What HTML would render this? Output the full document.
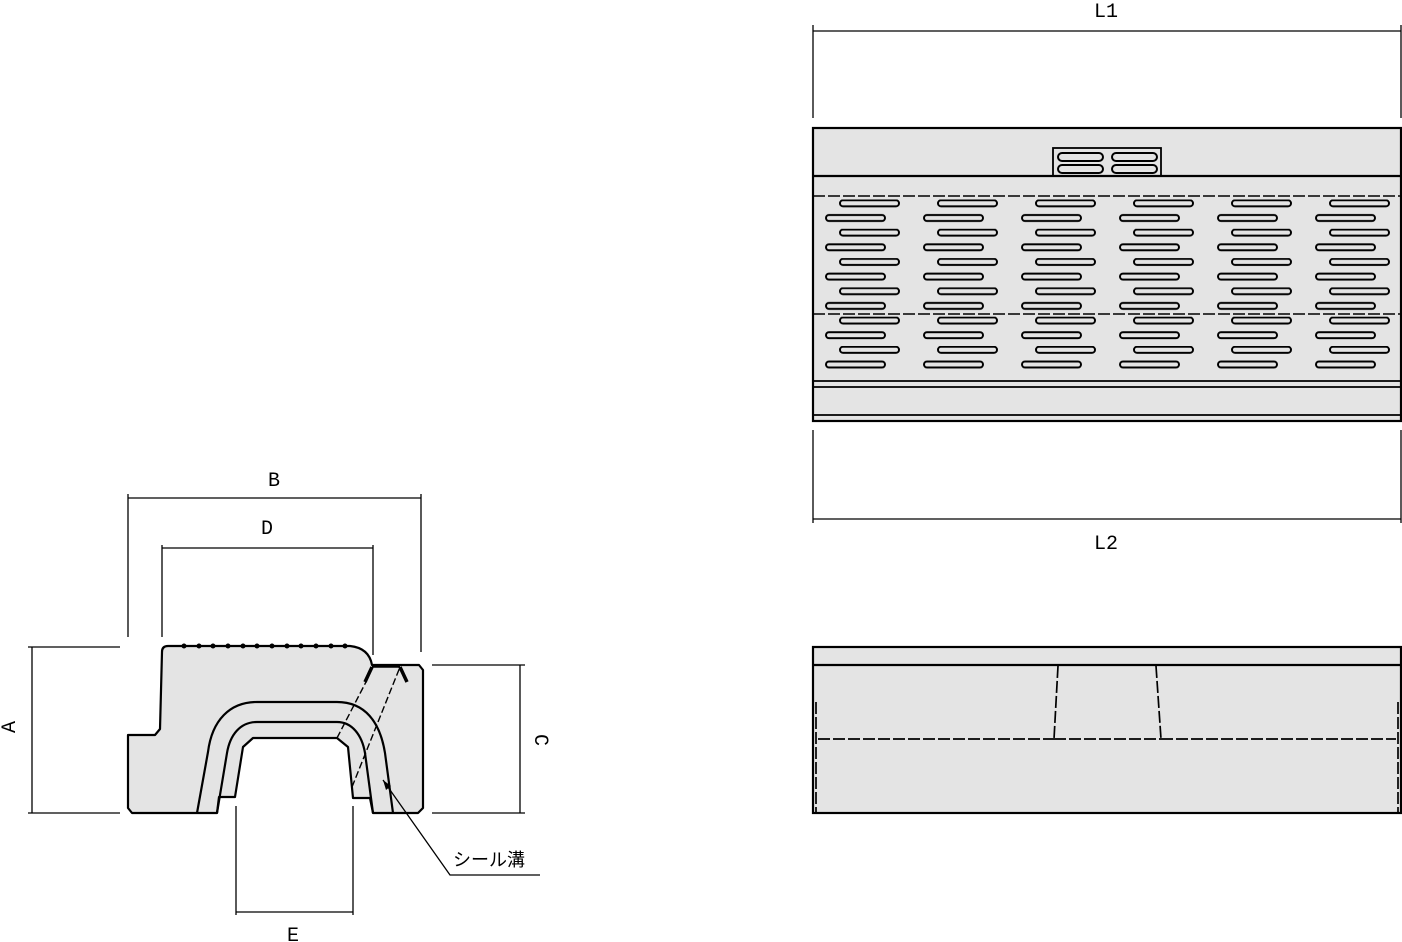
<!DOCTYPE html>
<html><head><meta charset="utf-8"><style>
html,body{margin:0;padding:0;background:#fff;}
svg{display:block;}
text{font-family:"Liberation Mono","Noto Sans CJK JP",monospace;font-size:20px;fill:#000;}
</style></head><body>
<svg width="1402" height="942" viewBox="0 0 1402 942" xmlns="http://www.w3.org/2000/svg">
<defs>
<pattern id="slots" patternUnits="userSpaceOnUse" x="825" y="199.5" width="98" height="29.3">
<rect x="15" y="0.8" width="59" height="6" rx="3" fill="#e4e4e4" stroke="#000" stroke-width="2"/>
<rect x="1" y="15.5" width="59" height="6" rx="3" fill="#e4e4e4" stroke="#000" stroke-width="2"/>
</pattern>
</defs>
<g stroke="#000" stroke-width="1.3" fill="none">
<line x1="813" y1="25" x2="813" y2="118"/><line x1="1401" y1="25" x2="1401" y2="118"/>
<line x1="813" y1="31" x2="1401" y2="31"/>
<line x1="813" y1="430" x2="813" y2="523"/><line x1="1401" y1="430" x2="1401" y2="523"/>
<line x1="813" y1="519" x2="1401" y2="519"/>
</g>
<text x="1094" y="17">L1</text>
<text x="1094" y="549">L2</text>
<rect x="813" y="128" width="588" height="293" fill="#e4e4e4" stroke="#000" stroke-width="2.2"/>
<rect x="1053" y="148" width="108" height="28" fill="#e4e4e4" stroke="#000" stroke-width="1.8"/>
<g fill="#e4e4e4" stroke="#000" stroke-width="2">
<rect x="1058" y="153" width="45" height="8" rx="4"/><rect x="1058" y="165" width="45" height="8" rx="4"/>
<rect x="1112" y="153" width="45" height="8" rx="4"/><rect x="1112" y="165" width="45" height="8" rx="4"/>
</g>
<line x1="813" y1="176" x2="1401" y2="176" stroke="#000" stroke-width="2.2"/>
<line x1="813" y1="196" x2="1401" y2="196" stroke="#000" stroke-width="1.6" stroke-dasharray="12,3"/>
<rect x="818" y="197" width="578" height="175" fill="url(#slots)"/>
<line x1="813" y1="314" x2="1401" y2="314" stroke="#000" stroke-width="1.6" stroke-dasharray="12,3"/>
<g stroke="#000" stroke-width="1.8">
<line x1="813" y1="381" x2="1401" y2="381"/><line x1="813" y1="387" x2="1401" y2="387"/>
<line x1="813" y1="415" x2="1401" y2="415"/>
</g>
<rect x="813" y="647" width="588" height="166" fill="#e4e4e4" stroke="#000" stroke-width="2.2"/>
<line x1="813" y1="665" x2="1401" y2="665" stroke="#000" stroke-width="2.2"/>
<g stroke="#000" stroke-width="1.7" fill="none" stroke-dasharray="12,3">
<line x1="818" y1="739" x2="1054" y2="739"/><line x1="1161" y1="739" x2="1396" y2="739"/>
<line x1="1058" y1="666" x2="1054" y2="739"/><line x1="1156" y1="666" x2="1161" y2="739"/>
<line x1="1054" y1="739" x2="1161" y2="739"/>
<line x1="816" y1="702" x2="816" y2="813"/><line x1="1398" y1="702" x2="1398" y2="813"/>
</g>
<g stroke="#000" stroke-width="1.3" fill="none">
<line x1="128" y1="494" x2="128" y2="637"/><line x1="421" y1="494" x2="421" y2="652"/>
<line x1="128" y1="498" x2="421" y2="498"/>
<line x1="162" y1="545" x2="162" y2="637"/><line x1="373" y1="545" x2="373" y2="655"/>
<line x1="162" y1="548" x2="373" y2="548"/>
<line x1="28" y1="647" x2="120" y2="647"/><line x1="28" y1="813" x2="120" y2="813"/>
<line x1="32" y1="647" x2="32" y2="813"/>
<line x1="432" y1="665" x2="525" y2="665"/><line x1="432" y1="813" x2="525" y2="813"/>
<line x1="520" y1="665" x2="520" y2="813"/>
<line x1="236" y1="806" x2="236" y2="915"/><line x1="353" y1="806" x2="353" y2="915"/>
<line x1="236" y1="912" x2="353" y2="912"/>
</g>
<text x="268" y="486">B</text>
<text x="261" y="534">D</text>
<text x="287" y="941">E</text>
<text transform="translate(15,727) rotate(-90)" text-anchor="middle">A</text>
<text transform="translate(535,740) rotate(90)" text-anchor="middle">C</text>
<path d="M132,813 L128,808 L128,735 L155,735 L160,729 L162,652 Q162,646 168,646 L350,646 Q369,648 372,665 L419,665 L423,670 L423,808 L418,813 L373,813 L370,798 L353,798 L348,747 L337,738 L253,738 L243,747 L235,797 L219,797 L217,813 Z" fill="#e4e4e4" stroke="#000" stroke-width="2.2" stroke-linejoin="round"/>
<g fill="#000">
<circle cx="184" cy="646" r="2.5"/><circle cx="199" cy="646" r="2.5"/><circle cx="213" cy="646" r="2.5"/><circle cx="228" cy="646" r="2.5"/><circle cx="243" cy="646" r="2.5"/><circle cx="257" cy="646" r="2.5"/><circle cx="272" cy="646" r="2.5"/><circle cx="287" cy="646" r="2.5"/><circle cx="301" cy="646" r="2.5"/><circle cx="316" cy="646" r="2.5"/><circle cx="331" cy="646" r="2.5"/><circle cx="345" cy="646" r="2.5"/>
</g>
<g stroke="#000" stroke-width="2.2" fill="none">
<path d="M197,813 L208,752 C212,720 230,702 257,702 L337,702 C365,702 380,722 385,753 L393,813"/>
<path d="M217,813 L227,753 C230,735 240,722 257,722 L337,722 C352,722 362,735 365,753 L373,813"/>
</g>
<g stroke="#000" stroke-width="1.4" fill="none" stroke-dasharray="7,3">
<line x1="337" y1="738" x2="367" y2="680"/>
<line x1="352" y1="787" x2="400" y2="667"/>
</g>
<g stroke="#000" stroke-width="3.5" fill="none">
<line x1="365" y1="682" x2="372" y2="667"/>
<line x1="400" y1="667" x2="407" y2="682"/>
<line x1="372" y1="666" x2="400" y2="666"/>
</g>
<g stroke="#000" stroke-width="1.3" fill="none">
<polyline points="383,780 450,875 540,875"/>
</g>
<path d="M383,780 L386,790 L391,786 Z" fill="#000"/>
<text x="453" y="866" style="font-family:'Noto Sans CJK JP',sans-serif;font-size:18px;">シール溝</text>
</svg>
</body></html>
